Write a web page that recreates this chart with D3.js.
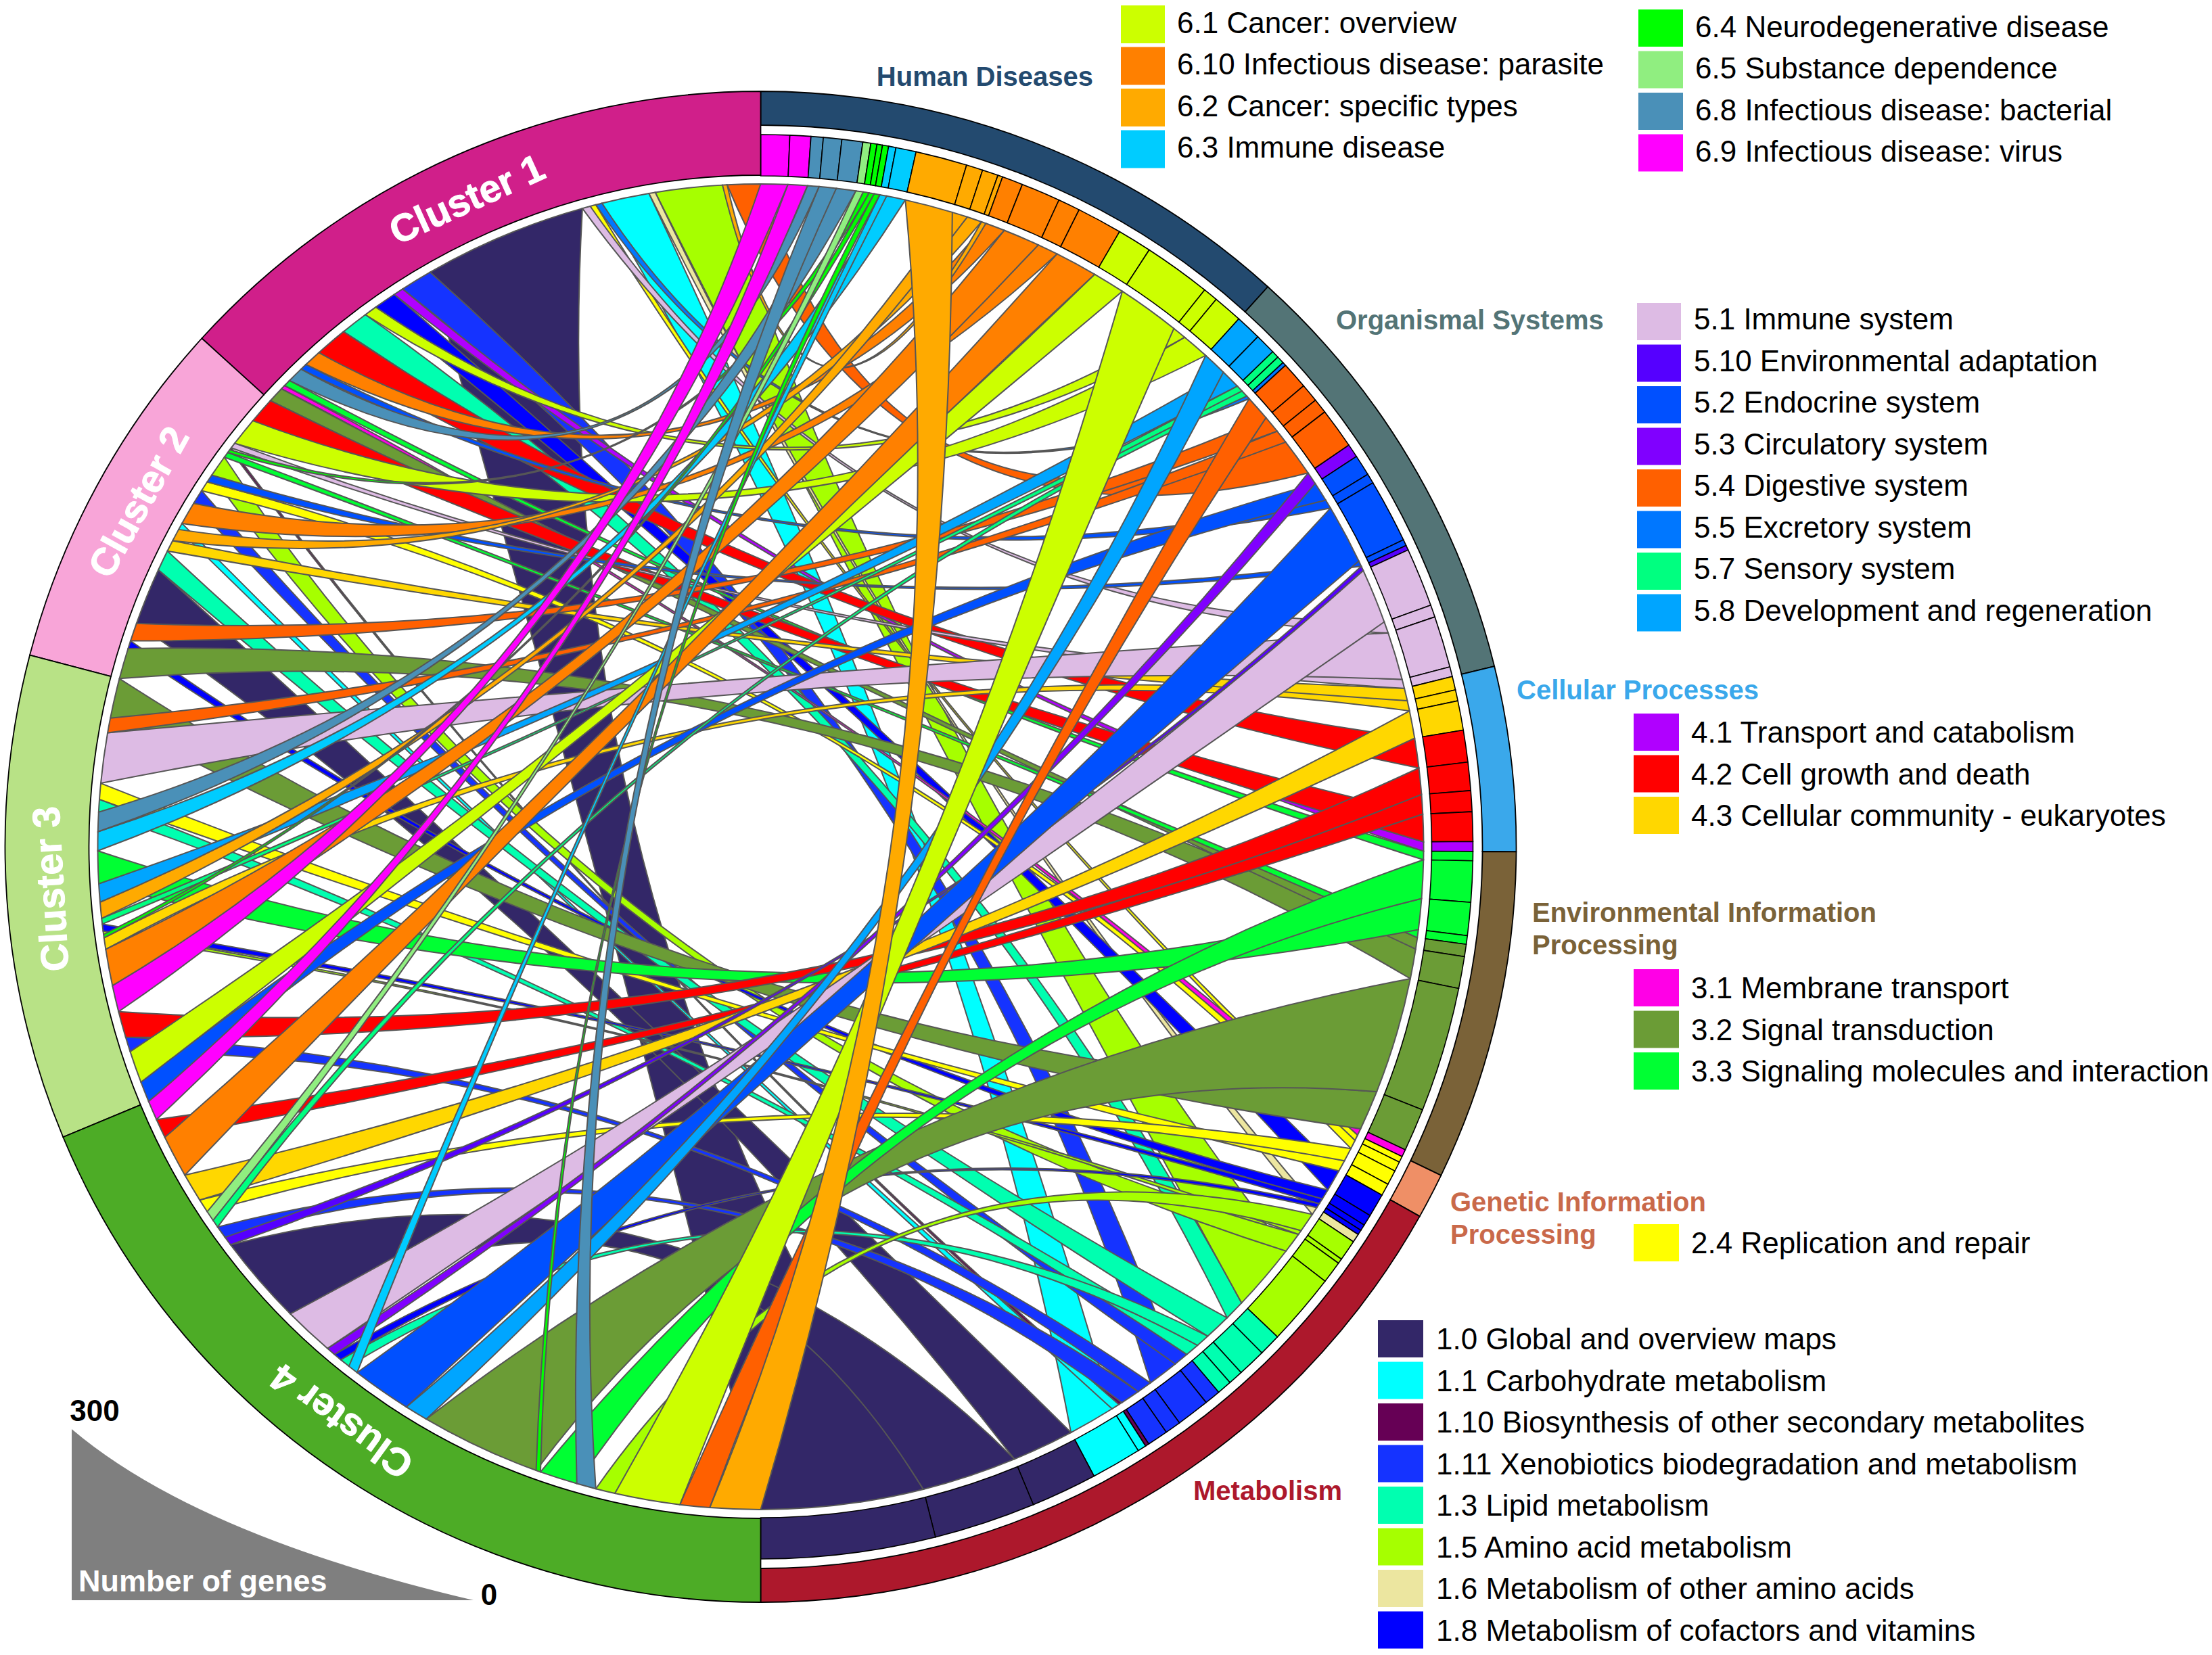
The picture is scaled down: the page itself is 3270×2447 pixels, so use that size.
<!DOCTYPE html>
<html><head><meta charset="utf-8">
<script src="https://cdn.jsdelivr.net/npm/d3@7/dist/d3.min.js"></script>
<style>html,body{margin:0;padding:0;background:#fff}svg{display:block}text{font-family:"Liberation Sans",Arial,sans-serif}</style>
</head><body><svg id="chart" width="3270" height="2447" xmlns="http://www.w3.org/2000/svg"></svg>
<script>
// ---------- data ----------
const categoryCodes = ["1.0","1.1","1.10","1.11","1.3","1.5","1.6","1.8","2.4","3.1","3.2","3.3","4.1","4.2","4.3","5.1","5.10","5.2","5.3","5.4","5.5","5.7","5.8","6.1","6.10","6.2","6.3","6.4","6.5","6.8","6.9"];
const categoryNames = ["Global and overview maps","Carbohydrate metabolism","Biosynthesis of other secondary metabolites","Xenobiotics biodegradation and metabolism","Lipid metabolism","Amino acid metabolism","Metabolism of other amino acids","Metabolism of cofactors and vitamins","Replication and repair","Membrane transport","Signal transduction","Signaling molecules and interaction","Transport and catabolism","Cell growth and death","Cellular community - eukaryotes","Immune system","Environmental adaptation","Endocrine system","Circulatory system","Digestive system","Excretory system","Sensory system","Development and regeneration","Cancer: overview","Infectious disease: parasite","Cancer: specific types","Immune disease","Neurodegenerative disease","Substance dependence","Infectious disease: bacterial","Infectious disease: virus"];
const categoryColors = ["#332768","#00ffff","#660055","#1533ff","#00ffb0","#a6ff00","#ece6a0","#0000ff","#ffff00","#ff00e6","#6b9c36","#00ff33","#b000ff","#ff0000","#ffd700","#ddbbe4","#5500ff","#0050ff","#8000ff","#ff6000","#0077ff","#00ff80","#00a5ff","#ccff00","#ff8000","#ffaa00","#00ccff","#00ff00","#90ee80","#4a90b8","#ff00ff"];

// right half, clockwise from the top: cell id (category + letter) and gene count
const rightIds = ["6.9a","6.9b","6.8a","6.8b","6.8c","6.5a","6.4a","6.4b","6.4c","6.3a","6.3b","6.2a","6.2b","6.2c","6.2d","6.10a","6.10b","6.10c","6.10d","6.1a","6.1b","6.1c","6.1d","5.8a","5.8b","5.7a","5.7b","5.5a","5.4a","5.4b","5.4c","5.4d","5.3a","5.2a","5.2b","5.2c","5.2d","5.10a","5.1a","5.1b","5.1c","5.1d","4.3a","4.3b","4.3c","4.2a","4.2b","4.2c","4.2d","4.1a","3.3a","3.3b","3.3c","3.3d","3.2a","3.2b","3.2c","3.2d","3.1a","2.4a","2.4b","2.4c","2.4d","1.8a","1.8b","1.8c","1.8d","1.6a","1.5a","1.5b","1.5c","1.5d","1.3a","1.3b","1.3c","1.3d","1.11a","1.11b","1.11c","1.11d","1.10a","1.1a","1.1b","1.0a","1.0b","1.0c"];
const rightGenes = [47,34,20,30,34,13,10,9,10,12,33,84,27,26,8,34,64,36,74,56,110,24,48,42,34,12,12,6,44,30,24,66,22,34,16,104,10,8,96,20,84,16,22,18,48,52,46,34,48,16,15,67,54,14,20,52,204,70,12,10,16,24,20,38,18,10,8,14,34,8,36,118,36,46,24,24,26,54,26,34,6,14,82,108,166,284];

// left half, counter-clockwise from the top, per cluster
const cluster1Ids = ["5.4d","6.2d","1.5d","1.6a","1.1b","5.5a","2.4a","5.1b","1.0c","1.11b","4.1a","1.8a","6.1c","1.3a","4.2a","6.10a","5.2b","6.8a","3.3a","3.1a","3.2a"];
const cluster1Genes = [58,8,117,11,83,11,10,14,286,56,17,39,22,48,56,30,12,28,12,8,28];
const cluster2Ids = ["4.2d","6.1d","5.1d","1.10a","6.4a","3.3d","1.5c","5.2d","2.4b","1.11a","6.10c","1.1a","6.2c","4.3a","1.3b","1.0a","5.4b","1.8b","3.2b"];
const cluster2Genes = [46,50,10,4,6,10,38,14,18,26,40,12,22,20,36,100,32,14,54];
const cluster3Ids = ["3.2d","5.4c","5.1c","2.4d","1.3d","6.8c","6.3b","3.3c","5.8b","6.2b","5.7a","1.8c","1.5b","6.4b","4.3b","6.10b","6.9a","4.2b","1.11c","6.1a","5.2a"];
const cluster3Genes = [70,26,88,28,22,34,33,57,32,28,10,12,6,6,20,64,46,46,26,56,36];
const cluster4Ids = ["6.9b","4.2c","6.10d","4.3c","2.4c","6.5a","5.7b","1.11d","5.10a","1.0b","5.1a","5.3a","1.8d","1.3c","6.3a","5.2c","5.8a","3.2c","6.4c","3.3b","6.8b","1.5a","6.1b","5.4a","6.2a"];
const cluster4Genes = [34,34,74,50,24,18,14,22,16,158,88,16,14,18,18,104,40,210,8,66,34,34,114,52,88];

const clusterNames = ["Cluster 1","Cluster 2","Cluster 3","Cluster 4"];
const clusterColors = ["#d01f8a","#f8a5d8","#b8e286","#4dac26"];

// KEGG groups: first digit of the category
const groupDigits = ["6","5","4","3","2","1"];
const groupTitles = ["Human Diseases","Organismal Systems","Cellular Processes","Environmental Information\nProcessing","Genetic Information\nProcessing","Metabolism"];
const groupColors = ["#234a6f","#537476","#3aa8eb","#7a6238","#ef8f66","#ad182c"];
const groupTextColors = ["#234a6f","#537476","#3aa8eb","#7a6238","#c9694a","#ad182c"];

// legend blocks: categories
const legend6a = ["6.1","6.10","6.2","6.3"];
const legend6b = ["6.4","6.5","6.8","6.9"];
const legend5 = ["5.1","5.10","5.2","5.3","5.4","5.5","5.7","5.8"];
const legend4 = ["4.1","4.2","4.3"];
const legend3 = ["3.1","3.2","3.3"];
const legend2 = ["2.4"];
const legend1 = ["1.0","1.1","1.10","1.11","1.3","1.5","1.6","1.8"];
const sizeLegendTicks = [300,0];

// ---------- layout ----------
const W = 3270, H = 2447, cx = 1124.5, cy = 1252;
const R = {outer:1117, groupIn:1067, cellOut:1053, cellIn:992, clusterIn:993, chord:980};
const svg = d3.select("#chart");
svg.append("rect").attr("width",W).attr("height",H).attr("fill","#fff");
const color = d3.scaleOrdinal(categoryCodes, categoryColors);
const catOf = id => id.slice(0,-1);
const RAD = Math.PI/180;

const rTotal = d3.sum(rightGenes);
const leftIds = [...cluster1Ids,...cluster2Ids,...cluster3Ids,...cluster4Ids];
const leftGenes = [...cluster1Genes,...cluster2Genes,...cluster3Genes,...cluster4Genes];
const lTotal = d3.sum(leftGenes);
const rAngle = d3.scaleLinear([0,rTotal],[0,Math.PI]);      // clockwise from top
const lAngle = d3.scaleLinear([0,lTotal],[0,-Math.PI]);     // counter-clockwise from top

function stack(ids, vals){ let c=0; return ids.map((id,i)=>{const s=c; c+=vals[i]; return {id,v:vals[i],s,e:c};}); }
const rCells = stack(rightIds,rightGenes);
const lCells = stack(leftIds,leftGenes);
const lById = new Map(lCells.map(d=>[d.id,d]));

const g = svg.append("g").attr("transform",`translate(${cx},${cy})`);
const pt = (a,r)=>[r*Math.sin(a),-r*Math.cos(a)];

// ribbon control points: pushed away from the centre for near-opposite ends (leaves the hole),
// and drawn together so that a ribbon pinches at its waist
const HOLE = 0.19, KAPPA = 0.72, PINCH = 0.4;
function ribbon(rc, lc){
  const a0=rAngle(rc.s), a1=rAngle(rc.e), b0=lAngle(lc.s), b1=lAngle(lc.e), r=R.chord;
  const pa=pt((a0+a1)/2,1), pb=pt((b0+b1)/2,1);
  const mx=(pa[0]+pb[0])/2, my=(pa[1]+pb[1])/2;
  const d=Math.hypot(mx,my)||1e-6;
  const f=Math.sqrt(HOLE*HOLE+KAPPA*KAPPA*d*d);
  const cxx=(2*f/d-1)*mx*r, cyy=(2*f/d-1)*my*r;
  const A0=pt(a0,r), B0=pt(b0,r), A1=pt(a1,r), B1=pt(b1,r);
  const edgeCtrl=(P,Q)=>[cxx-PINCH*((P[0]+Q[0])/2-mx*r), cyy-PINCH*((P[1]+Q[1])/2-my*r)];
  const c0=edgeCtrl(A0,B0), c1=edgeCtrl(A1,B1);
  const p=d3.path();
  p.moveTo(A0[0],A0[1]);
  p.quadraticCurveTo(c0[0],c0[1],B0[0],B0[1]);
  p.arc(0,0,r,b0-Math.PI/2,b1-Math.PI/2,true);
  p.quadraticCurveTo(c1[0],c1[1],A1[0],A1[1]);
  p.arc(0,0,r,a1-Math.PI/2,a0-Math.PI/2,true);
  p.closePath();
  return p.toString();
}

// ribbons: bottom of the right half is painted first
const links = rCells.filter(d=>lById.has(d.id)).map(d=>({rc:d,lc:lById.get(d.id)})).reverse();
g.append("g").selectAll("path").data(links).join("path")
  .attr("d",d=>ribbon(d.rc,d.lc))
  .attr("fill",d=>color(catOf(d.rc.id)))
  .attr("stroke","#565656").attr("stroke-width",2);

// cells of the right ring
const arc = d3.arc();
g.append("g").selectAll("path").data(rCells).join("path")
  .attr("d",d=>arc({innerRadius:R.cellIn,outerRadius:R.cellOut,startAngle:rAngle(d.s),endAngle:rAngle(d.e)}))
  .attr("fill",d=>color(catOf(d.id))).attr("stroke","#000").attr("stroke-width",1.6);

// group ring
const groups = groupDigits.map((dg,i)=>{
  const cells=rCells.filter(c=>c.id.split(".")[0]===dg);
  return {s:d3.min(cells,c=>c.s),e:d3.max(cells,c=>c.e),color:groupColors[i]};
});
g.append("g").selectAll("path").data(groups).join("path")
  .attr("d",d=>arc({innerRadius:R.groupIn,outerRadius:R.outer,startAngle:rAngle(d.s),endAngle:rAngle(d.e)}))
  .attr("fill",d=>d.color).attr("stroke","#000").attr("stroke-width",1.8);

// cluster ring
const clusterTotals = [cluster1Genes,cluster2Genes,cluster3Genes,cluster4Genes].map(v=>d3.sum(v));
const clusters = stack(clusterNames,clusterTotals);
g.append("g").selectAll("path").data(clusters).join("path")
  .attr("d",(d)=>arc({innerRadius:R.clusterIn,outerRadius:R.outer,startAngle:lAngle(d.e),endAngle:lAngle(d.s)}))
  .attr("fill",(d,i)=>clusterColors[i]).attr("stroke","#000").attr("stroke-width",1.8);
const labelDegrees = [24.4,61,93.4,143.9];
g.append("g").selectAll("text").data(clusters).join("text")
  .attr("transform",(d,i)=>{const a=-labelDegrees[i]*RAD,p=pt(a,1052);return `translate(${p[0]},${p[1]}) rotate(${a/RAD})`;})
  .attr("text-anchor","middle").attr("dominant-baseline","central")
  .attr("font-size",57).attr("font-weight","bold").attr("fill","#fff")
  .attr("stroke","#fff").attr("stroke-width",1).text(d=>d.id);

// group titles
const titlePos = [[1616,113,"end"],[1975,473,"start"],[2242,1020,"start"],[2265,1349,"start"],[2144,1777,"start"],[1764,2204,"start"]];
const titleG = svg.append("g");
groupTitles.forEach((t,i)=>{
  t.split("\n").forEach((line,j)=>{
    titleG.append("text").attr("x",titlePos[i][0]).attr("y",titlePos[i][1]+j*48)
      .attr("text-anchor",titlePos[i][2]).attr("dominant-baseline","central")
      .attr("font-size",40).attr("font-weight","bold").attr("fill",groupTextColors[i]).text(line);
  });
});

// legends
function legend(list, x0, y0, step, w, h, tx, dy){
  const sel = svg.append("g").selectAll("g").data(list).join("g");
  sel.append("rect").attr("x",x0).attr("y",(d,i)=>y0+i*step).attr("width",w).attr("height",h).attr("fill",d=>color(d));
  sel.append("text").attr("x",tx).attr("y",(d,i)=>y0+i*step+h/2+dy).attr("dominant-baseline","central")
    .attr("font-size",44).attr("fill","#000")
    .text(d=>d+" "+categoryNames[categoryCodes.indexOf(d)]);
}
legend(legend6a,1657,8,61.5,65,56,1740,-3);
legend(legend6b,2422,14,61.5,66,55,2506,-2.5);
legend(legend5,2420,448,61.5,65,55,2504,-4);
legend(legend4,2415,1055,61.5,67,55,2500,0);
legend(legend3,2415,1433,61.5,67,55,2500,0);
legend(legend2,2415,1810,61.5,67,55,2500,0);
legend(legend1,2037,1952,61.5,67,55,2123,0);

// gene-size wedge
const sizeH = d3.scaleLinear([0,300],[2366,2113]);
const sizeX = d3.scaleLinear([0,300],[700,106]);
const wedge = d3.path();
wedge.moveTo(sizeX(300),sizeH(0));
wedge.lineTo(sizeX(300),sizeH(300));
wedge.quadraticCurveTo(291,2270,sizeX(0),sizeH(0));
wedge.closePath();
svg.append("path").attr("d",wedge.toString()).attr("fill","#7f7f7f");
svg.append("text").attr("x",140).attr("y",2085).attr("text-anchor","middle").attr("dominant-baseline","central")
  .attr("font-size",44).attr("font-weight","bold").text(sizeLegendTicks[0]);
svg.append("text").attr("x",723).attr("y",2357).attr("text-anchor","middle").attr("dominant-baseline","central")
  .attr("font-size",44).attr("font-weight","bold").text(sizeLegendTicks[1]);
svg.append("text").attr("x",116).attr("y",2337).attr("dominant-baseline","central")
  .attr("font-size",45).attr("font-weight","bold").attr("fill","#fff").text("Number of genes");
</script></body></html>
